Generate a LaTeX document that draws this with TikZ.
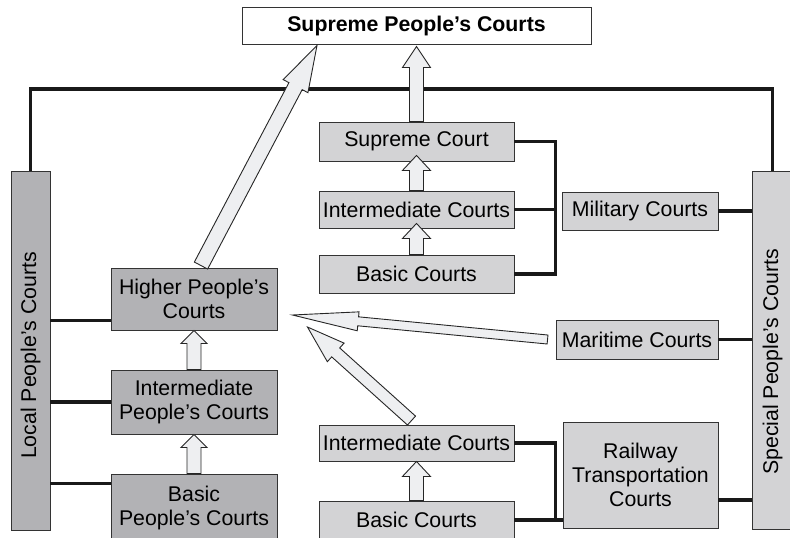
\documentclass[tikz,border=0pt]{standalone}
\usepackage{fontspec}
\setmainfont{Liberation Sans}
\usetikzlibrary{calc}
\definecolor{dk}{HTML}{B2B2B5}
\definecolor{lt}{HTML}{D3D3D5}
\definecolor{arrf}{HTML}{EEEFF1}
\definecolor{edge}{HTML}{333333}
\newcommand\barr[5]{%
  \coordinate (bah) at ($(#2)!#5!(#1)$);
  \draw[barrow] ($(#1)!#3!90:(#2)$) -- ($(bah)!#3!90:(#2)$) -- ($(bah)!#4!90:(#2)$) -- (#2)
    -- ($(bah)!#4!-90:(#2)$) -- ($(bah)!#3!-90:(#2)$) -- ($(#1)!#3!-90:(#2)$) -- cycle;}
\begin{document}
\begin{tikzpicture}[x=1pt,y=-1pt,
  box/.style={draw=edge, line width=0.9pt, inner sep=0pt, align=center,
    font=\fontsize{21.3}{24}\selectfont},
  darkbox/.style={box, fill=dk},
  lightbox/.style={box, fill=lt},
  conn/.style={line width=3.6pt, black!90},
  barrow/.style={draw=black!85, line width=0.9pt, fill=arrf, line join=miter}]
\useasboundingbox (0,0) rectangle (790,538);

% nodes
\node[box, fill=white, minimum width=349pt, minimum height=37pt, font=\fontsize{21.3}{24}\selectfont\bfseries]
  (sup) at (416.5,25.5) {Supreme People's Courts};
\node[darkbox, minimum width=39pt, minimum height=359pt] (local) at (30.5,350.5)
  {\rotatebox{90}{\kern-10pt Local People's Courts}};
\node[lightbox, minimum width=41pt, minimum height=358pt] (special) at (772.5,350)
  {\rotatebox{90}{\kern-24pt Special People's Courts}};

\node[darkbox, minimum width=166pt, minimum height=62pt] (higher) at (194,299) {Higher People's\\Courts};
\node[darkbox, minimum width=166pt, minimum height=64pt] (interP) at (194,402) {Intermediate\\People's Courts};
\node[darkbox, minimum width=166pt, minimum height=67pt] (basicP) at (194,507.5) {Basic\\People's Courts};

\node[lightbox, minimum width=195pt, minimum height=39pt] (supC) at (416.5,141.5) {Supreme Court};
\node[lightbox, minimum width=195pt, minimum height=37pt] (intC1) at (416.5,209.5) {Intermediate Courts};
\node[lightbox, minimum width=195pt, minimum height=38pt] (basC1) at (416.5,274) {Basic Courts};
\node[lightbox, minimum width=156pt, minimum height=38pt] (mil) at (640,211) {Military Courts};
\node[lightbox, minimum width=162pt, minimum height=39pt] (mar) at (637,339.5) {Maritime Courts};
\node[lightbox, minimum width=195pt, minimum height=36pt] (intC2) at (416.5,443) {Intermediate Courts};
\node[lightbox, minimum width=195pt, minimum height=38pt] (basC2) at (416.5,520) {Basic Courts};
\node[lightbox, minimum width=155pt, minimum height=106pt] (rail) at (640.5,475) {Railway\\Transportation\\Courts};

% connectors
\coordinate (topy) at (416,89);
\draw[conn] (local.north) |- (topy) -| (special.north);
\coordinate (h1) at ($(higher.south west)+(0,-10)$);
\draw[conn] (local.east |- h1) -- (h1);
\draw[conn] (local.east |- interP.west) -- (interP.west);
\coordinate (b1) at ($(basicP.north west)+(0,10)$);
\draw[conn] (local.east |- b1) -- (b1);

\draw[conn] (supC.east) -- ++(41,0) coordinate (br1) |- (basC1.east);
\draw[conn] (intC1.east) -- (intC1.east -| br1);
\draw[conn] (mil.east) -- (mil.east -| special.west);
\draw[conn] (mar.east) -- (mar.east -| special.west);
\draw[conn] (intC2.east) -- ++(41,0) coordinate (br2) |- (basC2.east);
\draw[conn] (basC2.east) -- (basC2.east -| rail.west);
\coordinate (r1) at ($(rail.east)+(0,25)$);
\draw[conn] (r1) -- (r1 -| special.west);

% block arrows
\coordinate (bt) at ($(higher.north)+(7,-2)$);
\coordinate (bq) at ($(sup.south)+(-99.5,1)$);
\barr{bt}{bq}{7.5pt}{14pt}{46pt}
\coordinate (t2) at ($(sup.south)+(0,2)$);
\barr{supC.north}{t2}{7pt}{14pt}{21pt}
\coordinate (t3) at ($(supC.south)+(0,-6)$);
\barr{intC1.north}{t3}{7pt}{14pt}{15pt}
\coordinate (t4) at ($(intC1.south)+(0,-5)$);
\barr{basC1.north}{t4}{7pt}{14pt}{15pt}
\barr{interP.north}{higher.south}{7pt}{13pt}{13pt}
\barr{basicP.north}{interP.south}{7pt}{13pt}{13pt}
\barr{basC2.north}{intC2.south}{7pt}{14pt}{15pt}
\coordinate (mt) at ($(mar.west)+(-8,0)$);
\coordinate (mq) at ($(higher.east)+(15,16)$);
\barr{mt}{mq}{4.5pt}{9.5pt}{66pt}
\coordinate (dt) at ($(intC2.north)+(-5,-4)$);
\coordinate (dq) at ($(higher.east)+(30,28)$);
\barr{dt}{dq}{6pt}{12.5pt}{38pt}
\end{tikzpicture}
\end{document}
